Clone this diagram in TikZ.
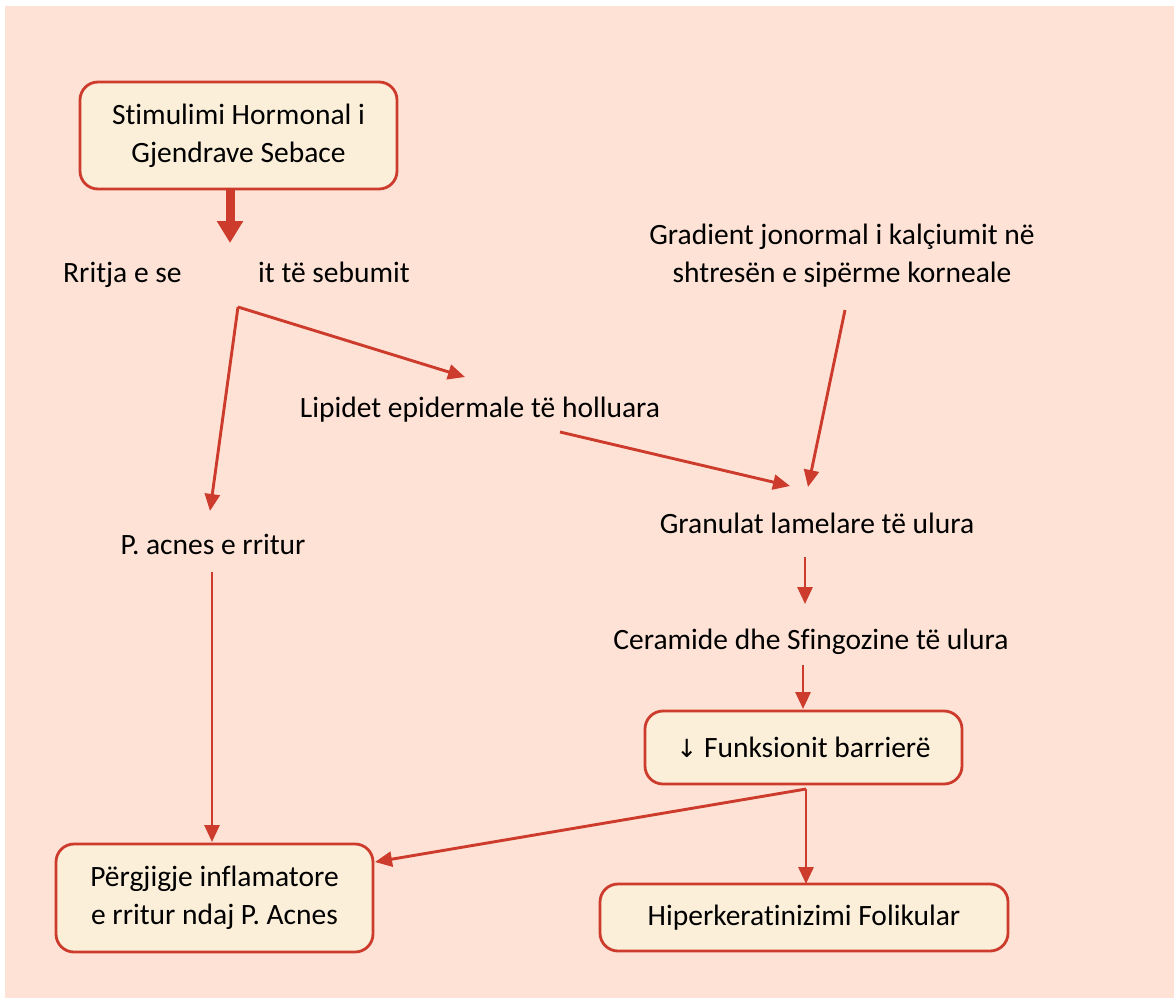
\documentclass[tikz,border=0pt]{standalone}
\usepackage{fontspec}
\setmainfont{Carlito}[Ligatures={NoCommon}]
\newfontfamily\arrowfont{DejaVu Sans}
\usetikzlibrary{arrows.meta}
\definecolor{bgpeach}{HTML}{FDE2D5}
\definecolor{boxfill}{HTML}{FCEFDA}
\definecolor{linered}{HTML}{CD3B2C}
\tikzset{
  x=1pt, y=-1pt,
  box/.style={draw=linered, line width=2.8pt, rounded corners=18pt, fill=boxfill, align=center, inner sep=0pt},
  lbl/.style={align=center, inner sep=0pt},
  conn/.style={draw=linered, line width=2.9pt, -{Triangle[length=17pt,width=15pt]}},
  bigarrow/.style={draw=linered, line width=9pt, -{Triangle[length=22pt,width=25pt]}},
}
\begin{document}
\begin{tikzpicture}[font=\fontsize{29.5}{38}\selectfont]
\useasboundingbox (0,0) rectangle (1174,998);
\fill[white] (0,0) rectangle (1174,998);
\fill[bgpeach] (5,6) rectangle (1174,998);

% boxes
\node[box, minimum width=317pt, minimum height=107pt] (hormon) at (238.5,135.5) {Stimulimi Hormonal i\\Gjendrave Sebace};
\node[box, minimum width=317pt, minimum height=73pt] (funk) at (803.5,747.5) {{\arrowfont\fontsize{25}{30}\selectfont ↓} Funksionit barrierë};
\node[box, minimum width=317pt, minimum height=108pt] (pergj) at (214.5,898) {\raisebox{-3pt}{\parbox{317pt}{\centering Përgjigje inflamatore\\e rritur ndaj P. Acnes}}};
\node[box, minimum width=408pt, minimum height=67pt] (hiper) at (804,917.5) {Hiperkeratinizimi Folikular};

% labels
\node[lbl, anchor=base west] (rritja1) at (63,282) {Rritja e se};
\node[lbl, anchor=base west] (rritja2) at (258,282) {it të sebumit};
\coordinate (rritja) at (238,307);
\node[lbl] (gradient) at (842,256) {Gradient jonormal i kalçiumit në\\shtresën e sipërme korneale};
\node[lbl] (lipidet) at (480,410) {Lipidet epidermale të holluara};
\node[lbl] (pacnes) at (213,544) {P. acnes e rritur};
\node[lbl] (granulat) at (817,523) {Granulat lamelare të ulura};
\node[lbl] (ceramide) at (811,642) {Ceramide dhe Sfingozine të ulura};

% connector endpoints
\coordinate (hormonS) at (230,190);
\coordinate (rritjaN) at (230,243);
\coordinate (lipidetIn) at (465,377);
\coordinate (pacnesIn) at (210,511);
\coordinate (lipidetOut) at (560,432);
\coordinate (granIn1) at (790,486);
\coordinate (gradOut) at (845,310);
\coordinate (granIn2) at (808,487);
\coordinate (granOut) at (805,557);
\coordinate (cerIn) at (805,604);
\coordinate (cerOut) at (803,665);
\coordinate (funkIn) at (803,709);
\coordinate (funkOut) at (806,789);
\coordinate (pergjIn1) at (375,862);
\coordinate (hiperIn) at (806,884);
\coordinate (pacnesOut) at (212,572);
\coordinate (pergjIn2) at (212,842);

% connectors
\draw[bigarrow] (hormonS) -- (rritjaN);
\draw[conn] (rritja) -- (lipidetIn);
\draw[conn] (rritja) -- (pacnesIn);
\draw[conn] (lipidetOut) -- (granIn1);
\draw[conn] (gradOut) -- (granIn2);
\draw[conn] (granOut) -- (cerIn);
\draw[conn] (cerOut) -- (funkIn);
\draw[conn] (funkOut) -- (pergjIn1);
\draw[conn] (funkOut) -- (hiperIn);
\draw[conn] (pacnesOut) -- (pergjIn2);
\end{tikzpicture}
\end{document}
